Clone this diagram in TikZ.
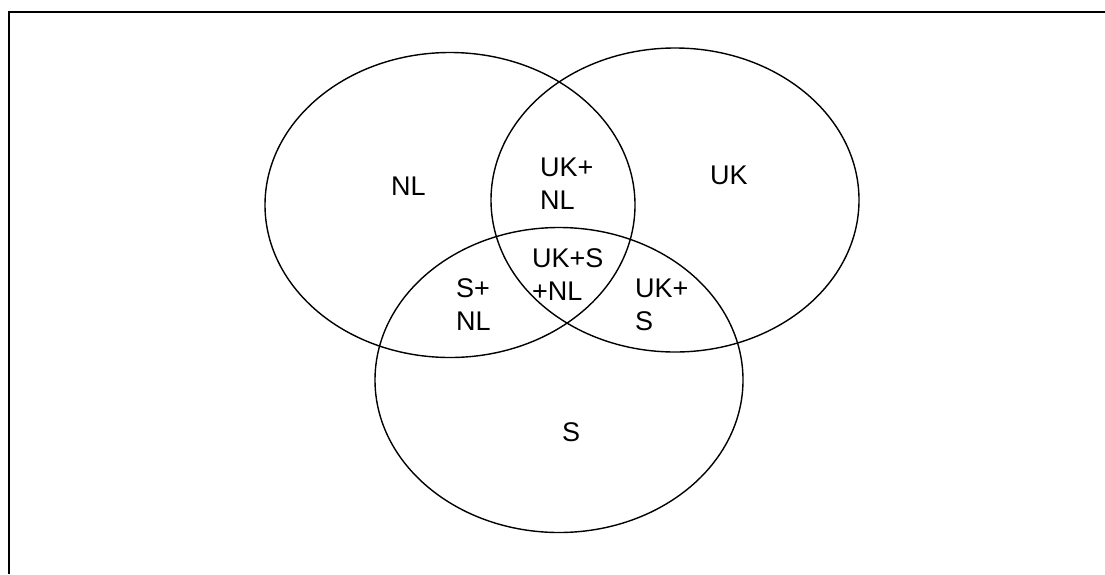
\documentclass[tikz,border=0pt]{standalone}
\usepackage{fontspec}
\setmainfont{Liberation Sans}
\begin{document}
\begin{tikzpicture}[x=1pt,y=-1pt,
  venn/.style={line width=1.4pt},
  frameline/.style={line width=2.2pt},
  lbl/.style={anchor=base west,inner sep=0pt,align=left,font=\fontsize{27}{33}\selectfont}]
\useasboundingbox (0,0) rectangle (1105,574);
% frame (top and left sides visible)
\coordinate (fbl) at (9,574);
\coordinate (ftl) at (9,12);
\coordinate (ftr) at (1105,12);
\draw[frameline] (fbl) -- (ftl) -- (ftr);
% ellipses
\coordinate (cNL) at (450,205);
\coordinate (cUK) at (675,200);
\coordinate (cS) at (559,380);
\draw[venn] (cNL) ellipse [x radius=185, y radius=152.5];
\draw[venn] (cUK) ellipse [x radius=184, y radius=152];
\draw[venn] (cS) ellipse [x radius=184, y radius=152.5];
% labels (base anchor = baseline of last line)
\node[lbl] (nl) at (391,195) {NL};
\node[lbl] (uk) at (710,184) {UK};
\node[lbl] (uknl) at (540,209) {UK+\\NL};
\node[lbl] (uksnl) at (532,300) {UK+S\\+NL};
\node[lbl] (snl) at (456,330) {S+\\NL};
\node[lbl] (uks) at (635,330) {UK+\\S};
\node[lbl] (s) at (562,441) {S};
\end{tikzpicture}
\end{document}
